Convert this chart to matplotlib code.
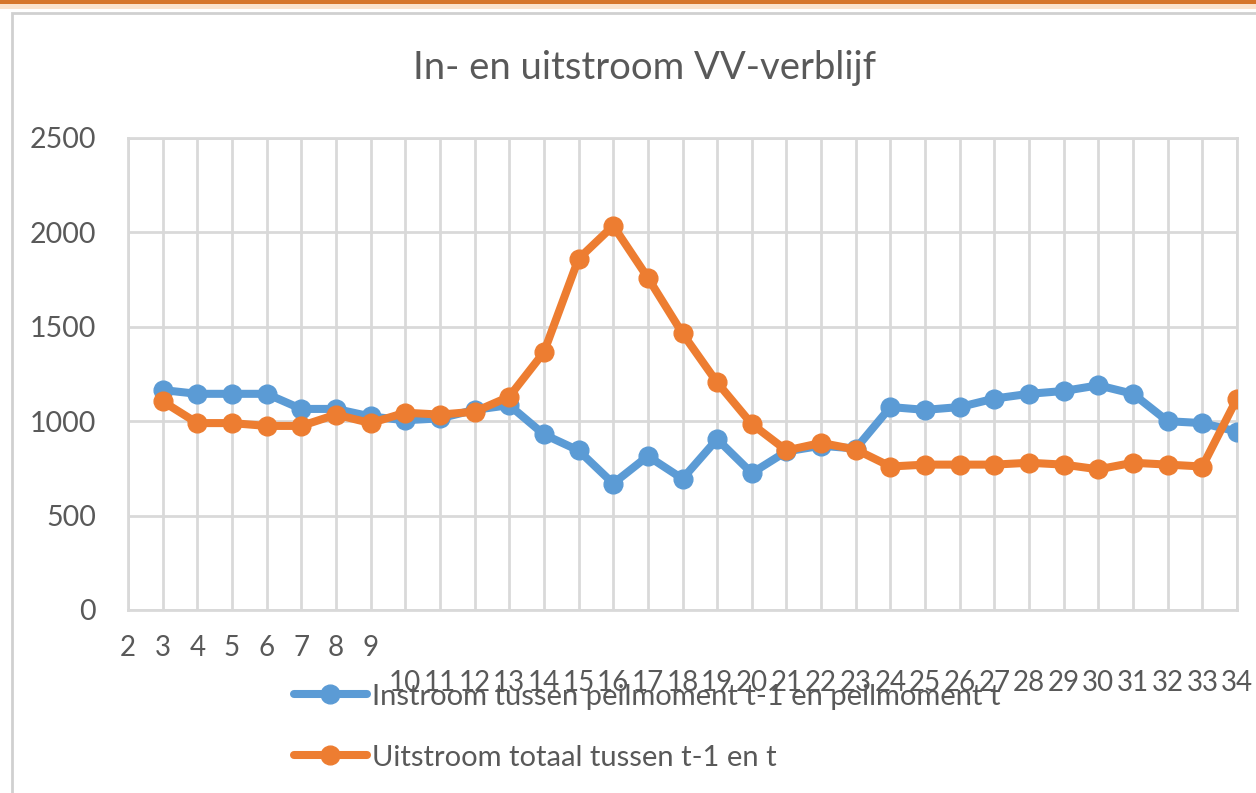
import matplotlib
matplotlib.use("Agg")
import matplotlib.pyplot as plt
from matplotlib.patches import Rectangle

# categories on the x axis (peilmoment); 2 has no values
categories = list(range(2, 35))
x_data = list(range(3, 35))

instroom = [1165, 1145, 1145, 1145, 1065, 1065, 1025, 1005, 1015, 1060,
            1085, 930, 845, 670, 815, 695, 905, 725, 840, 870,
            855, 1075, 1060, 1075, 1120, 1145, 1160, 1190, 1145, 1000,
            990, 945]
uitstroom = [1105, 990, 990, 975, 975, 1035, 990, 1045, 1035, 1050,
             1130, 1365, 1860, 2035, 1760, 1465, 1205, 985, 845, 885,
             850, 760, 770, 770, 770, 780, 770, 745, 780, 770,
             760, 1120]

y_ticks = [0, 500, 1000, 1500, 2000, 2500]

title = "In- en uitstroom VV-verblijf"
label_in = "Instroom tussen peilmoment t-1 en peilmoment t"
label_uit = "Uitstroom totaal tussen t-1 en t"

BLUE = "#5B9BD5"
ORANGE = "#ED7D31"
GRID = "#D9D9D9"
TEXT = "#595959"

plt.rcParams["font.family"] = ["Lato", "DejaVu Sans"]

W, H = 1256, 793
fig = plt.figure(figsize=(W / 100, H / 100), dpi=100)
fig.patch.set_facecolor("white")

# outer chart frame and orange bar at the top
fig.patches.append(Rectangle((12 / W, -0.1), 1.2, 1 - 13 / H + 0.1,
                             transform=fig.transFigure, fill=False,
                             edgecolor="#D0D0D0", lw=2))
fig.patches.append(Rectangle((0, 1 - 9 / H), 1, 5 / H, transform=fig.transFigure,
                             facecolor="#FBE3CC", edgecolor="none"))
fig.patches.append(Rectangle((0, 1 - 4 / H), 1, 4 / H, transform=fig.transFigure,
                             facecolor="#D6762A", edgecolor="none"))

ax = fig.add_axes([128 / W, 1 - 610 / H, (1237 - 128) / W, (610 - 138) / H])
ax.set_facecolor("white")

ax.plot(x_data, instroom, color=BLUE, lw=5.8, marker="o", ms=13.5,
        label=label_in, zorder=3, solid_capstyle="round")
ax.plot(x_data, uitstroom, color=ORANGE, lw=5.8, marker="o", ms=13.5,
        label=label_uit, zorder=4, solid_capstyle="round")

ax.set_xlim(2, 34)
ax.set_ylim(0, 2500)
ax.set_yticks(y_ticks)
ax.set_xticks(categories)
ax.set_xticklabels([])
ax.grid(True, color=GRID, lw=2)
ax.set_axisbelow(True)
ax.tick_params(length=0)
ax.tick_params(axis="y", pad=23, labelsize=20.5, labelcolor=TEXT)
for s in ax.spines.values():
    s.set_color(GRID)
    s.set_linewidth(2)

# category labels, drawn staggered like in the source picture
trans = ax.get_xaxis_transform()
for c in categories:
    y_px = 648 if c <= 9 else 683
    ax.text(c, -(y_px - 610) / (610 - 138), str(c), transform=trans,
            ha="center", va="center", fontsize=20, color=TEXT, zorder=5)

fig.text(0.513, 1 - 68 / H, title, ha="center", va="center",
         fontsize=27.5, color=TEXT)

leg = fig.legend(loc="upper left", bbox_to_anchor=(282 / W, 1 - 672 / H),
                 frameon=False, fontsize=21, handlelength=2.5,
                 handletextpad=0.2, labelspacing=1.2, borderaxespad=0)
for t in leg.get_texts():
    t.set_color(TEXT)

fig.savefig("out.png", dpi=100, facecolor="white")
